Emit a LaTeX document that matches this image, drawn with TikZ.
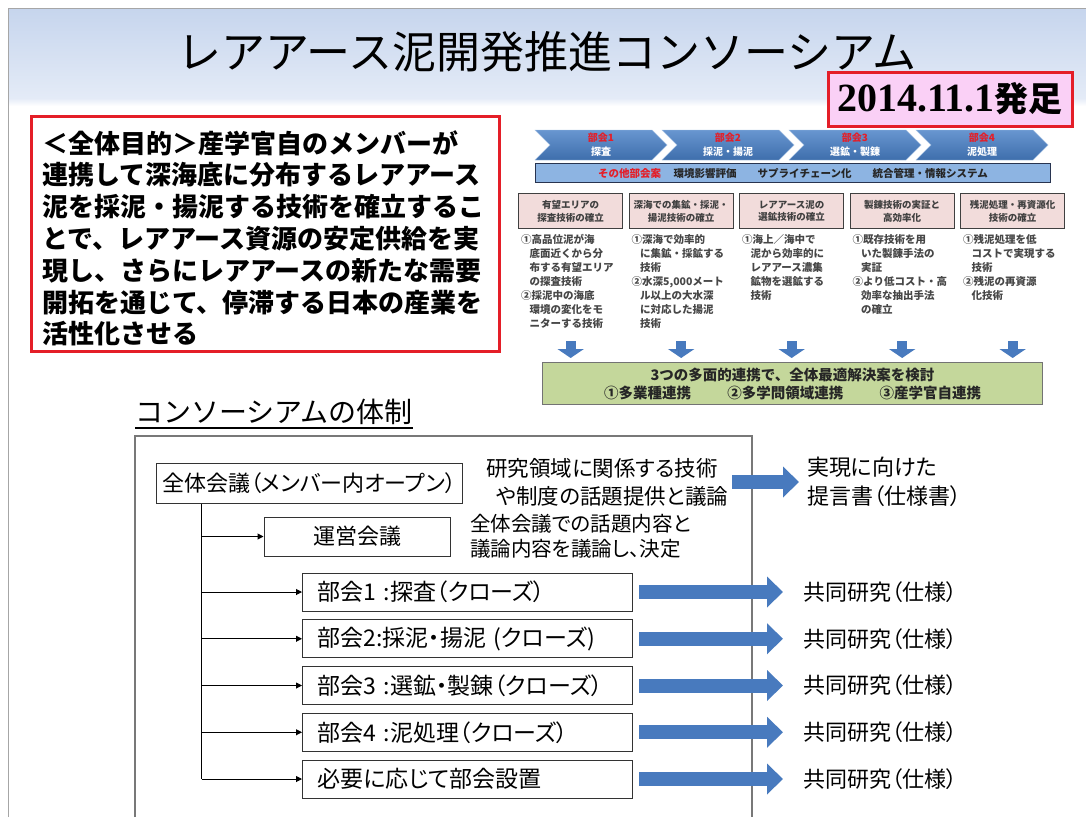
\documentclass[tikz,border=0pt]{standalone}
\usepackage{fontspec}
\setmainfont{Noto Sans CJK JP}
\newfontfamily\jpp[RawFeature=+palt]{Noto Sans CJK JP}
\newfontfamily\tnr{Liberation Serif}
\usetikzlibrary{arrows.meta}
\definecolor{slidered}{RGB}{228,30,40}
\definecolor{datepink}{RGB}{250,208,246}
\definecolor{bandtop}{RGB}{198,213,237}
\definecolor{bandbot}{RGB}{228,235,247}
\definecolor{chevtop}{RGB}{104,150,208}
\definecolor{chevbot}{RGB}{62,110,172}
\definecolor{barblue}{RGB}{141,180,226}
\definecolor{navy}{RGB}{40,52,80}
\definecolor{boxpink}{RGB}{242,220,219}
\definecolor{boxgreen}{RGB}{196,215,155}
\definecolor{arrowblue}{RGB}{72,122,190}
\definecolor{framegrey}{RGB}{120,120,120}
\newcommand\ind{\hspace*{0.8em}}

\begin{document}
\begin{tikzpicture}[x=1pt,y=1pt,
     orgbox/.style={draw=black!80,line width=1pt,minimum height=38pt,inner sep=0pt,
                    font=\jpp\fontsize{22}{22}\selectfont},
     pinkbox/.style={draw=black!75,line width=1.3pt,fill=boxpink,minimum width=104pt,
                     minimum height=35pt,inner sep=0pt,align=center,text=black!75,
                     font=\bfseries\fontsize{9.5}{12.5}\selectfont},
     techtext/.style={anchor=north west,inner sep=0pt,align=left,text=black!72,
                      font=\bfseries\fontsize{10.5}{14}\selectfont},
     fatarrow/.style={arrowblue,line width=14pt,-{Triangle[width=30pt,length=16pt]}},
     droparrow/.style={arrowblue,line width=10pt,-{Triangle[width=26pt,length=9pt]}},
     branch/.style={line width=1pt,-{Triangle[width=6pt,length=6pt]}}
     ]
   \useasboundingbox (0,0) rectangle (1086,-817);
   \fill[white] (0,0) rectangle (1086,-817);

   % title band
   \shade[top color=bandtop,bottom color=bandbot] (8,-8) rectangle (1086,-98);
   \shade[top color=bandbot,bottom color=white] (8,-98) rectangle (1086,-106);
   \draw[gray!70,line width=1pt] (8,-817) -- (8,-8) -- (1086,-8);
   \node[font=\fontsize{44}{44}\selectfont] (title) at (547,-52)
        {レアアース泥開発推進コンソーシアム};
   \node[draw=slidered,line width=3pt,fill=datepink,minimum width=244pt,
         minimum height=54pt,inner sep=0pt] (start) at (950,-99)
        {{\tnr\bfseries\fontsize{40}{40}\selectfont 2014.11.1}{\bfseries\fontsize{34}{34}\selectfont 発足}};

   % aim
   \node[draw=slidered,line width=2.5pt,minimum width=468pt,minimum height=235pt,
         anchor=north west] (aimbox) at (30,-115) {};
   \node[anchor=north west,inner sep=0pt,align=left,
         font=\bfseries\fontsize{26}{31.8}\selectfont] (aim) at (42,-130)
        {＜全体目的＞産学官自のメンバーが\\
         連携して深海底に分布するレアアース\\
         泥を採泥・揚泥する技術を確立するこ\\
         とで、レアアース資源の安定供給を実\\
         現し、さらにレアアースの新たな需要\\
         開拓を通じて、停滞する日本の産業を\\
         活性化させる};

   % working groups
   \foreach \k/\grp/\task [evaluate=\k as \lx using 535+127*\k]
      in {0/部会1/探査,
          1/部会2/採泥・揚泥,
          2/部会3/選鉱・製錬,
          3/部会4/泥処理}
   {
     \shadedraw[top color=chevtop,bottom color=chevbot,draw=chevtop!60!white]
        (\lx,-130) -- ++(117,0) -- ++(15,-15) -- ++(-15,-15) -- ++(-117,0) -- ++(15,15) -- cycle;
     \node[font=\bfseries\fontsize{10}{10}\selectfont,text=slidered] (grp\k) at (\lx+66,-138) {\grp};
     \node[font=\bfseries\fontsize{10}{10}\selectfont,text=white] (task\k) at (\lx+66,-152) {\task};
   }
   \node[draw=navy,fill=barblue,line width=1pt,minimum width=515pt,minimum height=19pt,
         inner sep=0pt,anchor=north west,text=black!85,
         font=\bfseries\fontsize{10.5}{10.5}\selectfont] (others) at (535,-163)
        {{\color{slidered}その他部会案}\hspace{1.2em}環境影響評価\hspace{2em}サプライチェーン化\hspace{2em}統合管理・情報システム};

   \foreach \k/\txt/\tech [evaluate=\k as \bx using 518+110.5*\k]
      in {0/{有望エリアの\\探査技術の確立}/{①高品位泥が海\\\ind 底面近くから分\\\ind 布する有望エリア\\\ind の探査技術\\②採泥中の海底\\\ind 環境の変化をモ\\\ind ニターする技術},
          1/{深海での集鉱・採泥・\\揚泥技術の確立}/{①深海で効率的\\\ind に集鉱・採鉱する\\\ind 技術\\②水深5,000メート\\\ind ル以上の大水深\\\ind に対応した揚泥\\\ind 技術},
          2/{レアアース泥の\\選鉱技術の確立}/{①海上／海中で\\\ind 泥から効率的に\\\ind レアアース濃集\\\ind 鉱物を選鉱する\\\ind 技術},
          3/{製錬技術の実証と\\高効率化}/{①既存技術を用\\\ind いた製錬手法の\\\ind 実証\\②より低コスト・高\\\ind 効率な抽出手法\\\ind の確立},
          4/{残泥処理・再資源化\\技術の確立}/{①残泥処理を低\\\ind コストで実現する\\\ind 技術\\②残泥の再資源\\\ind 化技術}}
   {
     \node[pinkbox,anchor=north west] (goal\k) at (\bx,-193) {\txt};
     \node[techtext] (tech\k) at (\bx+3,-234) {\tech};
   }

   \node[draw=black!55,fill=boxgreen,line width=1pt,minimum width=500pt,minimum height=42pt,
         anchor=north west,align=center,inner sep=0pt,text=black!85,
         font=\bfseries\fontsize{14.5}{18}\selectfont] (green) at (542,-362)
        {3つの多面的連携で、全体最適解決案を検討\\
         ①多業種連携\hspace{2.5em}②多学問領域連携\hspace{2.5em}③産学官自連携};
   \coordinate (droptop) at (0,-341);
   \coordinate (greentop) at ([yshift=4pt]green.north);
   \foreach \k in {0,...,4}
     \draw[droparrow] (goal\k.south |- droptop) -- (goal\k.south |- greentop);

   % organisation
   \node[anchor=base west,inner sep=0pt,font=\fontsize{28}{28}\selectfont] (sysname) at (135,-422)
        {コンソーシアムの体制};
   \draw[line width=1.5pt] ([yshift=-6pt]sysname.base west) -- ([yshift=-6pt]sysname.base east);
   \draw[framegrey,line width=1.2pt] (135,-817) |- (752,-436) -- (752,-817);

   \node[orgbox,minimum width=306pt,minimum height=40pt] (whole) at (309,-483)
        {全体会議（メンバー内オープン）};
   \node[anchor=west,align=left,inner sep=0pt,font=\jpp\fontsize{21.5}{28}\selectfont] (topic) at (486,-482)
        {研究領域に関係する技術\\\hspace*{10pt}や制度の話題提供と議論};
   \node[anchor=west,align=left,inner sep=0pt,font=\jpp\fontsize{22}{29}\selectfont] (proposal) at (807,-482)
        {実現に向けた\\提言書（仕様書）};
   \draw[fatarrow] ([xshift=4pt]topic.east) -- ([xshift=-8pt]proposal.west);

   \node[orgbox,minimum width=186pt,minimum height=39pt] (council) at (357,-536.5) {運営会議};
   \node[anchor=west,align=left,inner sep=0pt,font=\jpp\fontsize{20.5}{25}\selectfont] (agenda) at (470,-536.5)
        {全体会議での話題内容と\\議論内容を議論し、決定};

   \coordinate (trunk) at ([xshift=46pt]whole.south west);
   \draw[branch] (trunk |- council.west) -- (council.west);

   \foreach \k/\txt [evaluate=\k as \yy using -592-46.75*(\k-1)]
      in {1/{部会1 :探査（クローズ）},
          2/{部会2:採泥・揚泥 (クローズ)},
          3/{部会3 :選鉱・製錬（クローズ）},
          4/{部会4 :泥処理（クローズ）},
          5/{\centering 必要に応じて部会設置}}
   {
     \node[orgbox,anchor=west,text width=300pt,inner xsep=15pt,align=left,
           font=\jpp\fontsize{23}{23}\selectfont] (unit\k) at (302,\yy) {\txt};
     \node[anchor=west,inner sep=0pt,font=\jpp\fontsize{22}{22}\selectfont] (joint\k) at (803,\yy)
          {共同研究（仕様）};
     \draw[fatarrow] ([xshift=6pt]unit\k.east) -- ([xshift=-20pt]joint\k.west);
     \draw[branch] (trunk |- unit\k.west) -- (unit\k.west);
   }
   \draw[line width=1pt] (trunk) -- (trunk |- unit5.west);
\end{tikzpicture}
\end{document}
